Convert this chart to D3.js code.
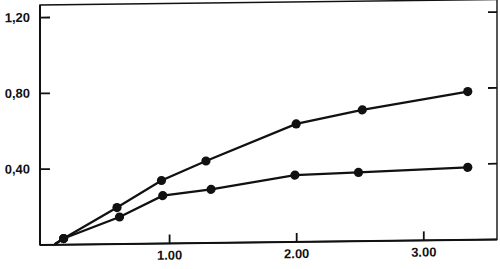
<!DOCTYPE html>
<html>
<head>
<meta charset="utf-8">
<script src="https://cdn.jsdelivr.net/npm/d3@7"></script>
<style>
    body { margin: 0; background: #fff; }
    .tick text { font-family: "Liberation Sans", Arial, sans-serif; font-weight: bold; font-size: 13px; fill: #111; }
</style>
</head>
<body>
<div id="chart"></div>
<script>
// values (first entry of each series = where the line leaves the x axis, no dot)
const upperX = [0.10, 0.17, 0.59, 0.94, 1.29, 2.00, 2.52, 3.35];
const upperY = [0, 0.03, 0.19, 0.33, 0.43, 0.62, 0.69, 0.78];
const lowerX = [0.10, 0.17, 0.61, 0.95, 1.33, 1.99, 2.49, 3.35];
const lowerY = [0, 0.03, 0.14, 0.25, 0.28, 0.35, 0.36, 0.38];

const xTicks = [1, 2, 3];
const yTicks = [0.4, 0.8, 1.2];

let width = 500, height = 269;
let frame = { left: 40, right: 497, top: 5, bottom: 245 };

let svg = d3.select("#chart").append("svg")
    .attr("width", width)
    .attr("height", height)

// the scanned original is slightly sheared
let g = svg.append("g")
    .attr("transform", "translate(" + frame.left + ",0) skewY(-0.69) translate(" + (-frame.left) + ",0)")

let xScale = d3.scaleLinear().domain([0, 3.58]).range([42, 497]);
let yScale = d3.scaleLinear().domain([0, 1.2]).range([244.5, 17.1]);

// frame
g.append("rect")
    .attr("x", frame.left)
    .attr("y", frame.top)
    .attr("width", frame.right - frame.left)
    .attr("height", frame.bottom - frame.top)
    .style("fill", "none")
    .style("stroke", "#111")
    .style("stroke-width", 1.4)

g.append("line")
    .attr("x1", frame.left).attr("x2", frame.left)
    .attr("y1", frame.top).attr("y2", frame.bottom)
    .style("stroke", "#111").style("stroke-width", 2)
g.append("line")
    .attr("x1", frame.left).attr("x2", frame.right)
    .attr("y1", frame.bottom).attr("y2", frame.bottom)
    .style("stroke", "#111").style("stroke-width", 2)

let fmtX = d => d3.format(".2f")(d);
let fmtY = d => d3.format(".2f")(d).replace(".", ",");

let yAxis = d3.axisLeft(yScale).tickValues(yTicks).tickSize(-10).tickPadding(10).tickFormat(fmtY)
g.append("g")
    .attr("transform", "translate(" + frame.left + ",0)")
    .call(yAxis)
    .call(a => a.select(".domain").remove())

let yAxisRight = d3.axisRight(yScale).tickValues(yTicks).tickSize(-9).tickFormat("")
g.append("g")
    .attr("transform", "translate(" + frame.right + ",0)")
    .call(yAxisRight)
    .call(a => a.select(".domain").remove())

let xAxis = d3.axisBottom(xScale).tickValues(xTicks).tickSize(-9).tickPadding(7).tickFormat(fmtX)
g.append("g")
    .attr("transform", "translate(0," + frame.bottom + ")")
    .call(xAxis)
    .call(a => a.select(".domain").remove())

g.selectAll(".tick line").style("stroke", "#111").style("stroke-width", 1.8)

let series = [
    upperX.map((x, i) => ({ x: x, y: upperY[i] })),
    lowerX.map((x, i) => ({ x: x, y: lowerY[i] }))
];

let lineGenerator = d3.line()
    .x(d => xScale(d.x))
    .y(d => yScale(d.y))

g.selectAll(".seriesLine").data(series).join("path")
    .attr("class", "seriesLine")
    .attr("d", d => lineGenerator(d))
    .style("fill", "none")
    .style("stroke", "#111")
    .style("stroke-width", 2.3)

let dots = [];
series.forEach(s => s.slice(1).forEach(p => dots.push(p)));

g.selectAll(".seriesDot").data(dots).join("circle")
    .attr("class", "seriesDot")
    .attr("cx", d => xScale(d.x))
    .attr("cy", d => yScale(d.y))
    .attr("r", 4.6)
    .style("fill", "#111")
</script>
</body>
</html>
